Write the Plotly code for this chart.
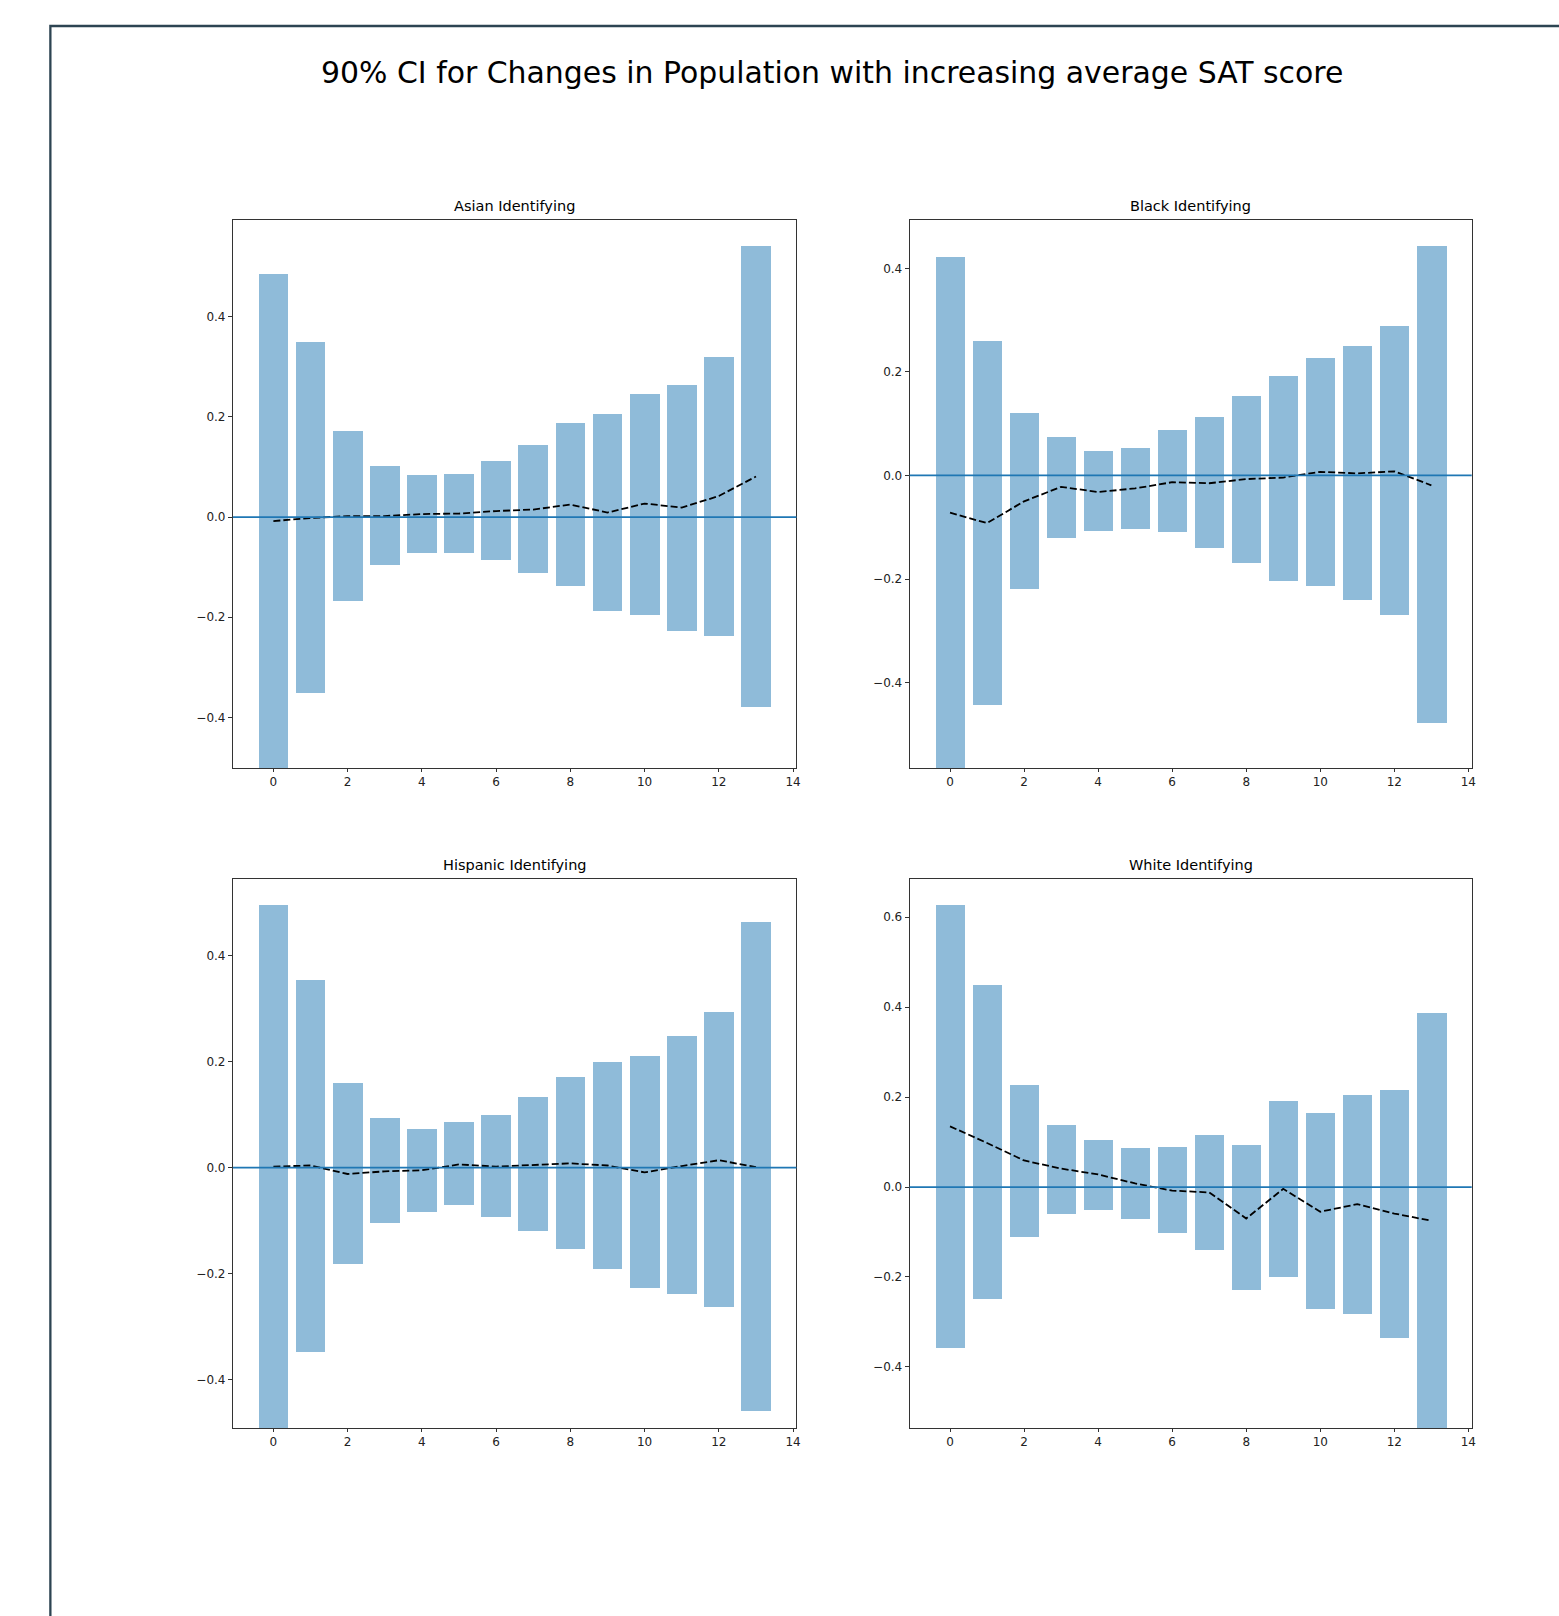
import plotly.graph_objects as go
from plotly.subplots import make_subplots

W, H = 1559, 1616

x_idx = list(range(14))
x_ticks = [0, 2, 4, 6, 8, 10, 12, 14]

titles = ["Asian Identifying", "Black Identifying", "Hispanic Identifying", "White Identifying"]
main_title = "90% CI for Changes in Population with increasing average SAT score"

asian_upper = [0.485, 0.350, 0.172, 0.101, 0.083, 0.085, 0.111, 0.143, 0.187, 0.206, 0.246, 0.263, 0.320, 0.541]
asian_lower = [-0.501, -0.352, -0.167, -0.095, -0.071, -0.071, -0.086, -0.111, -0.137, -0.187, -0.195, -0.227, -0.237, -0.379]
asian_mean = [-0.008, -0.002, 0.002, 0.002, 0.006, 0.007, 0.012, 0.015, 0.025, 0.009, 0.027, 0.019, 0.042, 0.081]

black_upper = [0.421, 0.259, 0.121, 0.075, 0.047, 0.054, 0.087, 0.113, 0.154, 0.192, 0.226, 0.250, 0.288, 0.443]
black_lower = [-0.565, -0.444, -0.220, -0.121, -0.107, -0.103, -0.109, -0.140, -0.169, -0.203, -0.214, -0.241, -0.269, -0.479]
black_mean = [-0.072, -0.092, -0.050, -0.022, -0.032, -0.025, -0.013, -0.015, -0.007, -0.004, 0.007, 0.004, 0.008, -0.019]

hisp_upper = [0.495, 0.353, 0.159, 0.093, 0.072, 0.086, 0.100, 0.133, 0.170, 0.200, 0.211, 0.249, 0.293, 0.463]
hisp_lower = [-0.491, -0.347, -0.181, -0.104, -0.083, -0.071, -0.094, -0.120, -0.153, -0.192, -0.227, -0.239, -0.262, -0.458]
hisp_mean = [0.002, 0.004, -0.012, -0.007, -0.005, 0.006, 0.002, 0.005, 0.008, 0.004, -0.009, 0.003, 0.014, 0.001]

white_upper = [0.627, 0.449, 0.227, 0.137, 0.104, 0.087, 0.090, 0.115, 0.093, 0.191, 0.164, 0.205, 0.216, 0.386]
white_lower = [-0.357, -0.249, -0.111, -0.059, -0.051, -0.071, -0.103, -0.139, -0.229, -0.201, -0.272, -0.282, -0.336, -0.536]
white_mean = [0.135, 0.098, 0.059, 0.041, 0.028, 0.008, -0.008, -0.012, -0.070, -0.004, -0.055, -0.038, -0.059, -0.075]

panels = [
    (asian_upper, asian_lower, asian_mean),
    (black_upper, black_lower, black_mean),
    (hisp_upper, hisp_lower, hisp_mean),
    (white_upper, white_lower, white_mean),
]

FONT = "DejaVu Sans"
BAR_COLOR = "rgba(31,119,180,0.5)"
C0 = "#1f77b4"

# pixel geometry of the axes boxes
col_px = [(233.5, 798.5), (912.0, 1475.5)]
row_px = [(220.0, 768.0), (879.0, 1428.0)]

fig = make_subplots(rows=2, cols=2)

for k, (up, lo, mn) in enumerate(panels):
    r, c = k // 2 + 1, k % 2 + 1
    heights = [u - l for u, l in zip(up, lo)]
    fig.add_trace(go.Bar(x=x_idx, y=heights, base=lo, width=0.8,
                         marker=dict(color=BAR_COLOR, line=dict(width=0)),
                         showlegend=False, hoverinfo="skip"), row=r, col=c)
    fig.add_trace(go.Scatter(x=x_idx, y=mn, mode="lines",
                             line=dict(color="black", width=1.8, dash="7px,3px"),
                             showlegend=False), row=r, col=c)
    fig.add_hline(y=0, line=dict(color=C0, width=1.8), row=r, col=c)
    ymin = min(lo)
    ymax = max(up)
    ytop = ymax + 0.05 * (ymax - ymin)
    fig.update_yaxes(range=[ymin, ytop], row=r, col=c)

    xa, xb = col_px[c - 1]
    ya, yb = row_px[r - 1]
    fig.add_annotation(text=titles[k], x=(xa + xb) / 2 / W, y=1 - (ya - 4) / H,
                       xref="paper", yref="paper", xanchor="center", yanchor="bottom",
                       showarrow=False, font=dict(family=FONT, size=14.5, color="black"))

for i in range(4):
    r, c = i // 2, i % 2
    xa, xb = col_px[c]
    ya, yb = row_px[r]
    xname = "xaxis" if i == 0 else f"xaxis{i+1}"
    yname = "yaxis" if i == 0 else f"yaxis{i+1}"
    fig.layout[xname].domain = [xa / W, xb / W]
    fig.layout[yname].domain = [1 - yb / H, 1 - ya / H]

fig.update_xaxes(range=[-1.09, 14.09], tickvals=x_ticks, ticks="outside", ticklen=3,
                 tickwidth=1, tickcolor="#333", showline=True, linecolor="#333",
                 linewidth=1, mirror=True, showgrid=False, zeroline=False,
                 tickfont=dict(family=FONT, size=12, color="#222"))
fig.update_yaxes(dtick=0.2, tick0=0, tickformat=".1f", ticks="outside", ticklen=4,
                 tickwidth=1, tickcolor="#333", showline=True, linecolor="#333",
                 linewidth=1, mirror=True, showgrid=False, zeroline=False,
                 tickfont=dict(family=FONT, size=12, color="#222"))

fig.add_annotation(text=main_title, x=834 / W, y=1 - 72 / H, xref="paper", yref="paper",
                   xanchor="center", yanchor="middle", showarrow=False,
                   font=dict(family=FONT, size=29.9, color="black"))

# outer frame of the figure (extends past the right and bottom edges)
fig.add_shape(type="rect", xref="paper", yref="paper",
              x0=50.5 / W, x1=1.05, y0=-0.05, y1=1 - 26 / H,
              line=dict(color="#2d4452", width=2.3), layer="below")

fig.update_layout(width=W, height=H, margin=dict(l=0, r=0, t=0, b=0),
                  paper_bgcolor="white", plot_bgcolor="white",
                  bargap=0, showlegend=False)

fig.write_html("out.html", config={"displayModeBar": False},
               post_script="document.body.style.margin='0';document.body.style.overflow='hidden';")
